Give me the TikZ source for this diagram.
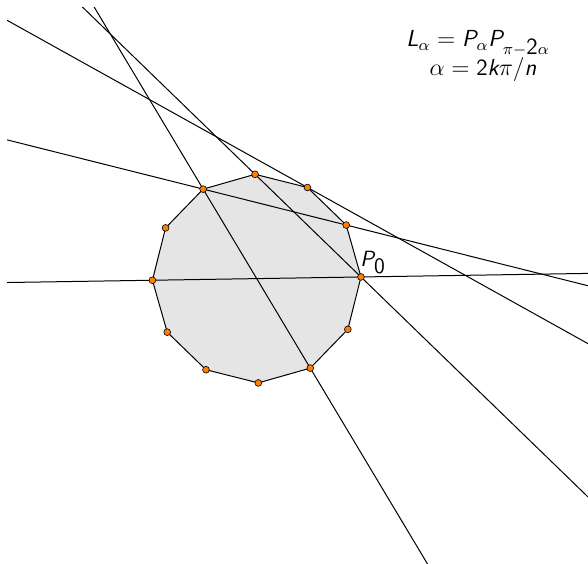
\documentclass[tikz,border=0pt]{standalone}
\usetikzlibrary{calc}
\definecolor{ptorange}{HTML}{FF8000}
\definecolor{polyfill}{HTML}{E5E5E5}
\newcommand{\sv}[1]{\textsf{\itshape #1}}
\newcommand{\sd}[1]{\textsf{#1}}
\begin{document}
\begin{tikzpicture}[x=0.5pt,y=-0.5pt,
  vtx/.style={circle, fill=ptorange, draw=black, line width=0.3pt, inner sep=0pt, minimum size=3.4pt},
  lineL/.style={line width=0.5pt, shorten <=-700pt, shorten >=-700pt},
  edgeL/.style={line width=0.5pt},
  formula/.style={anchor=base, font=\fontsize{11.6}{14}\selectfont}]
\useasboundingbox (0,0) rectangle (588,563);
\coordinate (C) at (256.7,278.6);
\foreach \k in {0,...,11} { \coordinate (P\k) at ($(C)+({-0.9-30*\k}:104.3)$); }
\fill[polyfill] (P0) \foreach \k in {1,...,11}{ -- (P\k)} -- cycle;
\coordinate (T2) at ($(P2)!1!90:(C)$);
\begin{scope}
  \clip (7,7) rectangle (600,600);
  \draw[lineL] (P0) -- (P6);
  \draw[lineL] (P1) -- (P4);
  \draw[lineL] (P2) -- (T2);
  \draw[lineL] (P3) -- (P0);
  \draw[lineL] (P4) -- (P10);
\end{scope}
\draw[edgeL] (P0) \foreach \k in {1,...,11}{ -- (P\k)} -- cycle;
\foreach \k in {0,...,11} { \node[vtx] (V\k) at (P\k) {}; }
\node[anchor=south west, inner sep=0pt, font=\fontsize{11}{13}\selectfont] (lab) at ($(V0.north)+(-1,1)$) {$\sv{P}_{\sd{0}}$};
\node[formula] (f1) at (478,46.7) {$\sv{L}_\alpha = \sv{P}_\alpha \sv{P}_{\pi-\sd{2}\alpha}$};
\node[formula] (f2) at (483,75) {$\alpha = \sd{2}\sv{k}\pi/\sv{n}$};
\end{tikzpicture}
\end{document}
